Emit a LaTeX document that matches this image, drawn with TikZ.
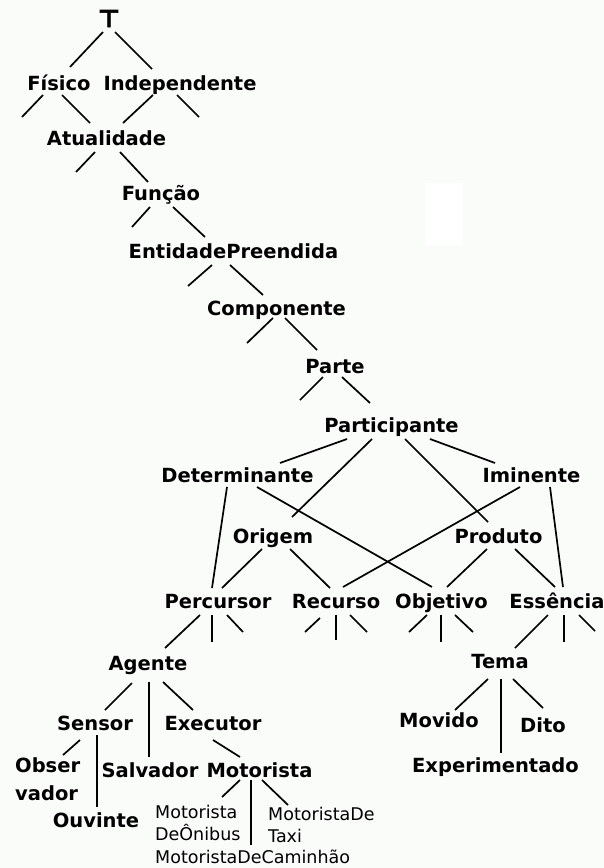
\documentclass[tikz,border=0pt]{standalone}
\usepackage{fontspec}
\newfontfamily\labfont{DejaVu Sans}
\newfontfamily\smfont{DejaVu Sans}
\newfontfamily\topfont{DejaVu Sans Bold}[FakeBold=3]
\usetikzlibrary{calc}
\definecolor{bgc}{RGB}{250,252,250}
\newcommand\lnk[4]{\draw[edge] ($(#1)+(#2)$) -- ($(#3)+(#4)$);}
\newcommand\stub[3]{\draw[edge] ($(#1)+(#2)$) -- (#3);}
\begin{document}
\begin{tikzpicture}[x=1pt,y=-1pt,
  lab/.style={font=\labfont\bfseries\fontsize{19.5}{23}\selectfont, inner sep=0pt, anchor=base},
  sm/.style={font=\smfont\fontsize{17.5}{22}\selectfont, inner sep=0pt, anchor=base west, align=left},
  edge/.style={line width=1.7pt, black}]
\fill[bgc] (0,0) rectangle (604,868);
\useasboundingbox (0,0) rectangle (604,868);
\fill[white] (425,183) rectangle (463,245);

\node[lab,font=\topfont\fontsize{24}{26}\selectfont] (top) at (109,27) {⊤};
\node[lab] (fis) at (59,90) {Físico};
\node[lab] (ind) at (180,90) {Independente};
\node[lab] (atu) at (106.5,145) {Atualidade};
\node[lab] (fun) at (161,200) {Função};
\node[lab] (ent) at (233.5,258) {EntidadePreendida};
\node[lab] (com) at (276.5,315) {Componente};
\node[lab] (par) at (335,373) {Parte};
\node[lab] (pct) at (391.5,432) {Participante};
\node[lab] (det) at (237.5,482) {Determinante};
\node[lab] (imi) at (531.5,482) {Iminente};
\node[lab] (ori) at (273,543) {Origem};
\node[lab] (pro) at (498.5,543) {Produto};
\node[lab] (per) at (218,608) {Percursor};
\node[lab] (rec) at (336,608) {Recurso};
\node[lab] (obj) at (441.5,608) {Objetivo};
\node[lab] (ess) at (557,608) {Essência};
\node[lab] (age) at (148,670) {Agente};
\node[lab] (tem) at (500,668) {Tema};
\node[lab] (sen) at (95,730) {Sensor};
\node[lab] (exe) at (213,730) {Executor};
\node[lab] (mov) at (439,727) {Movido};
\node[lab] (dit) at (543,732) {Dito};
\node[lab,anchor=base west,align=left] (obs) at (15,800) {Obser\\[5pt]vador};
\node[lab] (sal) at (150,777) {Salvador};
\node[lab] (mot) at (259.5,777) {Motorista};
\node[lab] (exp) at (495.5,772) {Experimentado};
\node[lab] (ouv) at (96,827) {Ouvinte};
\node[sm] (oni) at (155,840) {Motorista\\DeÔnibus};
\node[sm] (tax) at (268,842) {MotoristaDe\\Taxi};
\node[sm] (cam) at (155,863) {MotoristaDeCaminhão};

\coordinate (f1) at (22,117);
\coordinate (f2) at (199,117);
\coordinate (f3) at (76,172);
\coordinate (f4) at (132,227);
\coordinate (f5) at (188,286);
\coordinate (f6) at (247,343);
\coordinate (f7) at (300,400);
\coordinate (f8) at (212,642);
\coordinate (f9) at (243,632);
\coordinate (f10) at (305,632);
\coordinate (f11) at (336,640);
\coordinate (f12) at (367,632);
\coordinate (f13) at (409,632);
\coordinate (f14) at (441,642);
\coordinate (f15) at (473,632);
\coordinate (f16) at (564,642);
\coordinate (f17) at (595,631);

\lnk{top.base}{-6,5}{fis.base}{11,-23}
\lnk{top.base}{6,5}{ind.base}{-28,-21}
\stub{fis.base}{-16,5}{f1}
\lnk{fis.base}{3,5}{atu.base}{-16.5,-22}
\lnk{ind.base}{-27,5}{atu.base}{16.5,-22}
\stub{ind.base}{-3,5}{f2}
\stub{atu.base}{-11.5,7}{f3}
\lnk{atu.base}{13.5,7}{fun.base}{-13,-18}
\stub{fun.base}{-11,7}{f4}
\lnk{fun.base}{12,7}{ent.base}{-28.5,-21}
\stub{ent.base}{-21.5,7}{f5}
\lnk{ent.base}{-3.5,7}{com.base}{-13.5,-20}
\stub{com.base}{-3.5,3}{f6}
\lnk{com.base}{8.5,3}{par.base}{-18,-23}
\stub{par.base}{-12,4}{f7}
\lnk{par.base}{7,4}{pct.base}{-21.5,-29}
\lnk{pct.base}{-44.5,7}{det.base}{42.5,-19}
\lnk{pct.base}{-19.5,7}{ori.base}{19,-26}
\lnk{pct.base}{13.5,7}{pro.base}{-10.5,-21}
\lnk{pct.base}{38.5,7}{imi.base}{-36.5,-19}
\lnk{det.base}{-10.5,5}{per.base}{-6,-20}
\lnk{det.base}{19.5,5}{obj.base}{-9.5,-21}
\lnk{ori.base}{-11,6}{per.base}{4,-20}
\lnk{ori.base}{17,6}{rec.base}{-6,-20}
\lnk{imi.base}{-11.5,5}{rec.base}{7,-21}
\lnk{imi.base}{18.5,5}{ess.base}{6,-21}
\lnk{pro.base}{-11.5,6}{obj.base}{5.5,-21}
\lnk{pro.base}{16.5,6}{ess.base}{-2,-21}
\lnk{per.base}{-18,7}{age.base}{17,-22}
\stub{per.base}{-6,7}{f8}
\stub{per.base}{9,7}{f9}
\stub{rec.base}{-16,10}{f10}
\stub{rec.base}{0,7}{f11}
\stub{rec.base}{14,7}{f12}
\stub{obj.base}{-14.5,7}{f13}
\stub{obj.base}{-0.5,7}{f14}
\stub{obj.base}{13.5,7}{f15}
\lnk{ess.base}{-9,7}{tem.base}{15,-20}
\stub{ess.base}{7,7}{f16}
\stub{ess.base}{22,7}{f17}
\lnk{tem.base}{-12,11}{mov.base}{16,-17}
\lnk{tem.base}{1,11}{exp.base}{5.5,-19}
\lnk{tem.base}{13,11}{dit.base}{0,-24}
\lnk{age.base}{-16,13}{sen.base}{10,-20}
\lnk{age.base}{1,12}{sal.base}{-1,-20}
\lnk{age.base}{15,12}{exe.base}{-20,-20}
\lnk{sen.base}{-15,10}{obs.base west}{48,-45}
\lnk{sen.base}{2,5}{ouv.base}{1,-20}
\lnk{exe.base}{0,10}{mot.base}{-19.5,-20}
\lnk{mot.base}{-19.5,3}{oni.base west}{67,-43}
\lnk{mot.base}{-8.5,3}{cam.base west}{96,-18}
\lnk{mot.base}{2.5,3}{tax.base west}{20,-37}
\end{tikzpicture}
\end{document}
